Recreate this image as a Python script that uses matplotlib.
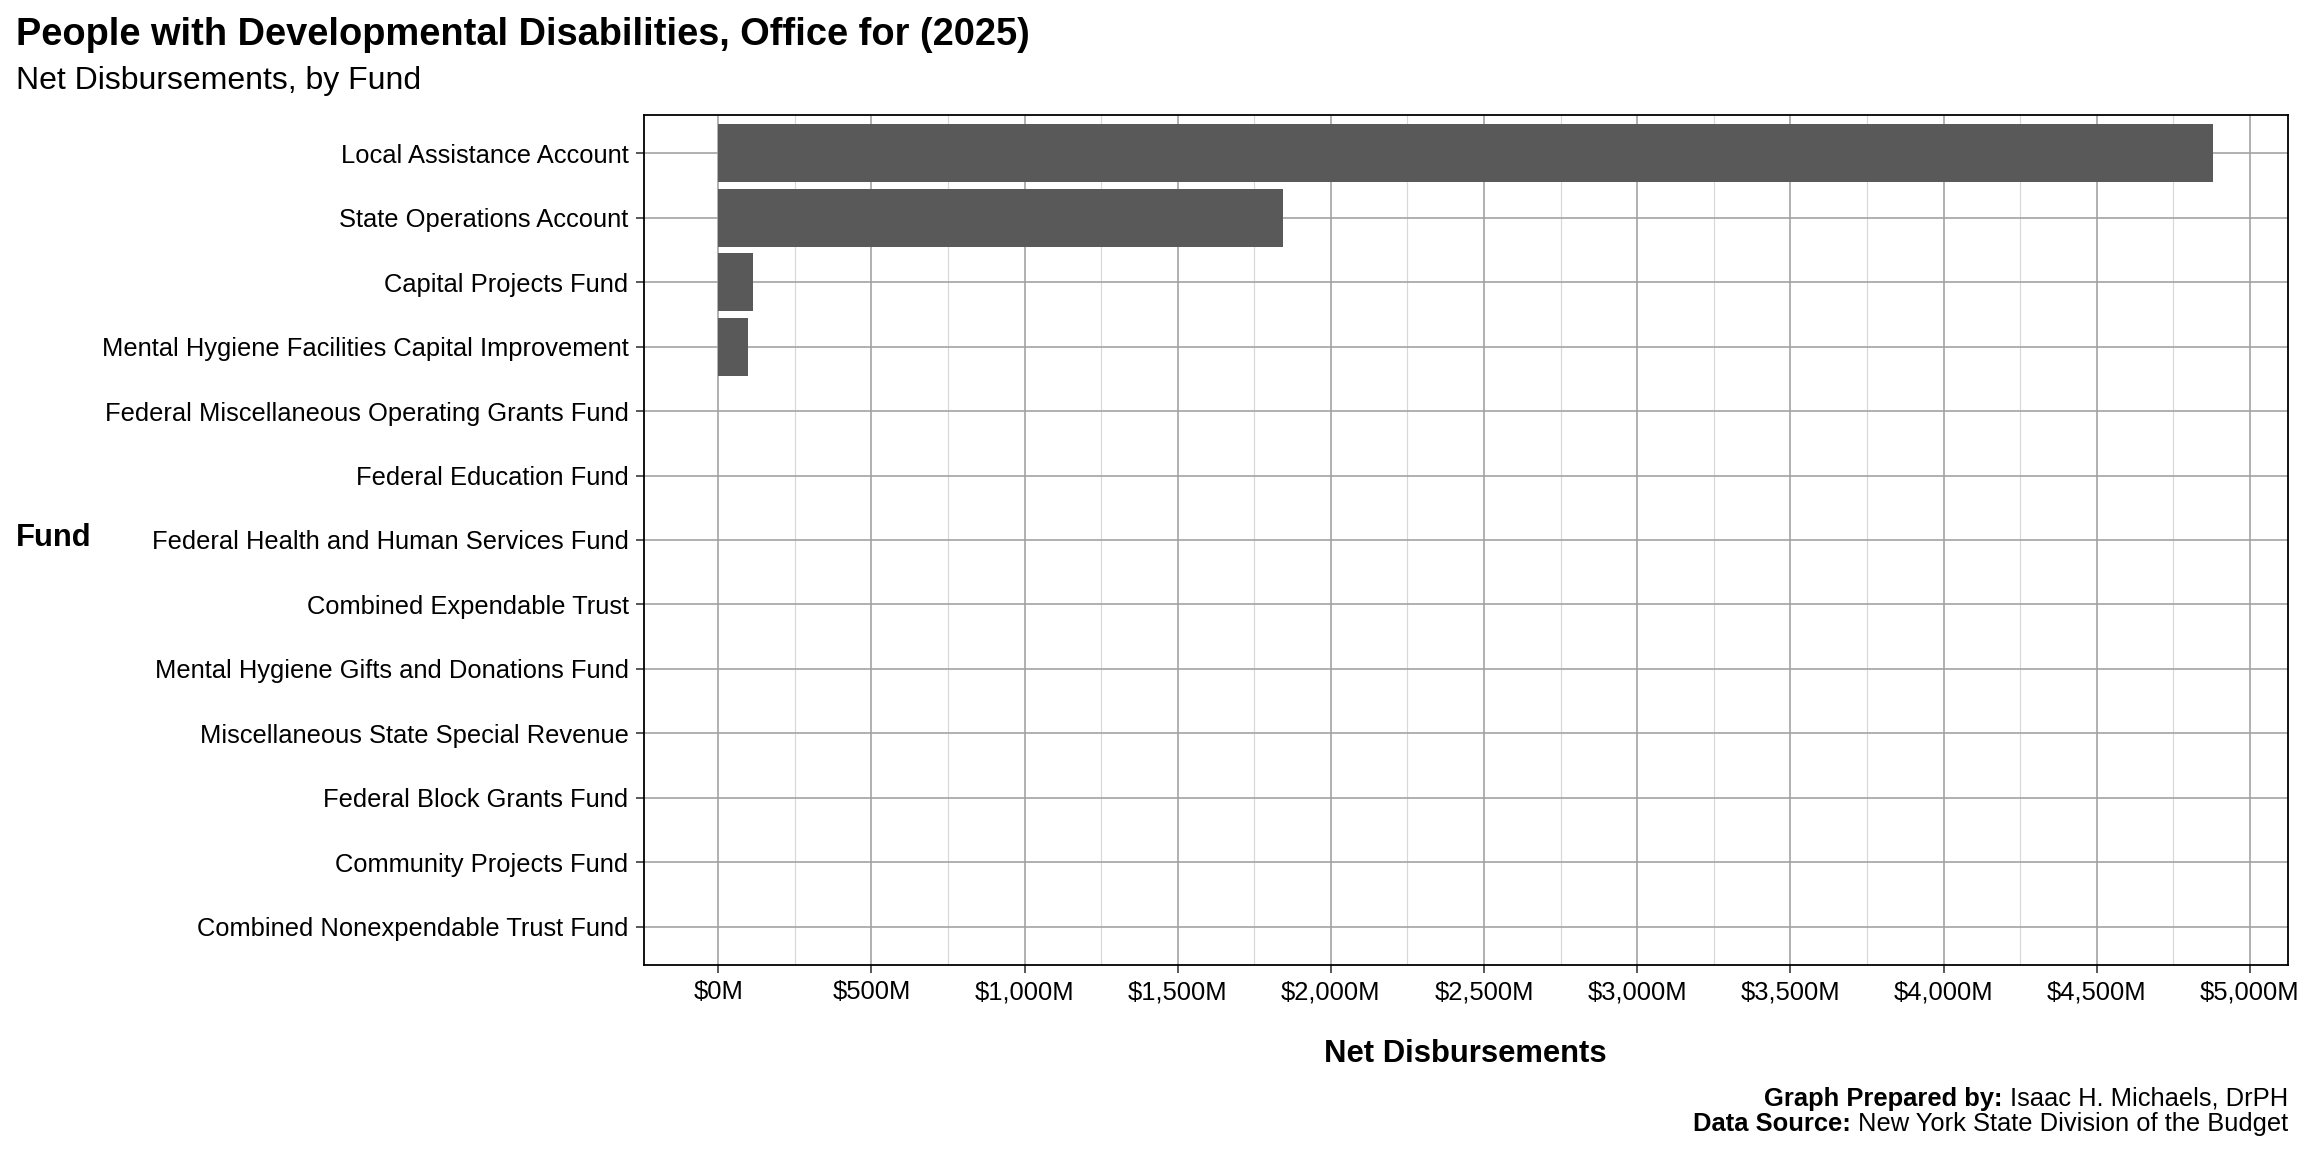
# Net disbursements by fund, OPWDD 2025

import numpy as np
import matplotlib.pyplot as plt
from matplotlib.ticker import MultipleLocator, FuncFormatter

plt.rcParams['font.family'] = ['Liberation Sans', 'DejaVu Sans']

# Data (millions of dollars)
funds = [
    'Local Assistance Account',
    'State Operations Account',
    'Capital Projects Fund',
    'Mental Hygiene Facilities Capital Improvement',
    'Federal Miscellaneous Operating Grants Fund',
    'Federal Education Fund',
    'Federal Health and Human Services Fund',
    'Combined Expendable Trust',
    'Mental Hygiene Gifts and Donations Fund',
    'Miscellaneous State Special Revenue',
    'Federal Block Grants Fund',
    'Community Projects Fund',
    'Combined Nonexpendable Trust Fund',
]
disbursements = [4880, 1845, 115, 97, 0.1, 0.08, 0.06, 0.05, 0.03, 0.02, 0.01, 0.005, 0.0]

title = 'People with Developmental Disabilities, Office for (2025)'
subtitle = 'Net Disbursements, by Fund'

fig = plt.figure(figsize=(16, 8), dpi=144)
ax = fig.add_axes([0.2793, 0.162, 0.7137, 0.7385])

ypos = np.arange(len(funds))[::-1]
ax.barh(ypos, disbursements, height=0.9, color='#595959', linewidth=0, zorder=2)

xmax = max(disbursements)
ax.set_xlim(-0.05 * xmax, 1.05 * xmax)
ax.set_ylim(-0.6, len(funds) - 0.4)

ax.set_yticks(ypos)
ax.set_yticklabels(funds)
ax.xaxis.set_major_locator(MultipleLocator(500))
ax.xaxis.set_minor_locator(MultipleLocator(250))
ax.xaxis.set_major_formatter(FuncFormatter(lambda v, p: '${:,.0f}M'.format(v)))

ax.grid(which='major', color='#a0a0a0', linewidth=0.8, zorder=0)
ax.grid(which='minor', axis='x', color='#d8d8d8', linewidth=0.6, zorder=0)
ax.set_axisbelow(True)
ax.tick_params(axis='both', which='major', labelsize=12.75, color='#333333', length=4, width=0.8)
ax.tick_params(axis='x', which='minor', length=0)
for s in ax.spines.values():
    s.set_linewidth(0.9)
    s.set_color('black')

fig.text(0.007, 0.961, title, fontsize=19, fontweight='bold', ha='left', va='baseline')
fig.text(0.007, 0.923, subtitle, fontsize=16, ha='left', va='baseline')
fig.text(0.636, 0.085, 'Net Disbursements', fontsize=15.5, fontweight='bold', ha='center', va='center')
fig.text(0.007, 0.533, 'Fund', fontsize=15.5, fontweight='bold', ha='left', va='center')

# Caption with bold labels
renderer = fig.canvas.get_renderer()
caption = [('Graph Prepared by: ', 'Isaac H. Michaels, DrPH', 0.040),
           ('Data Source: ', 'New York State Division of the Budget', 0.018)]
xr = 0.993
for lab, val, yy in caption:
    t = fig.text(xr, yy, val, fontsize=12.75, ha='right', va='baseline')
    bb = t.get_window_extent(renderer)
    x0 = fig.transFigure.inverted().transform((bb.x0, 0))[0]
    fig.text(x0, yy, lab, fontsize=12.75, fontweight='bold', ha='right', va='baseline')

plt.savefig('out.png', dpi=144)
